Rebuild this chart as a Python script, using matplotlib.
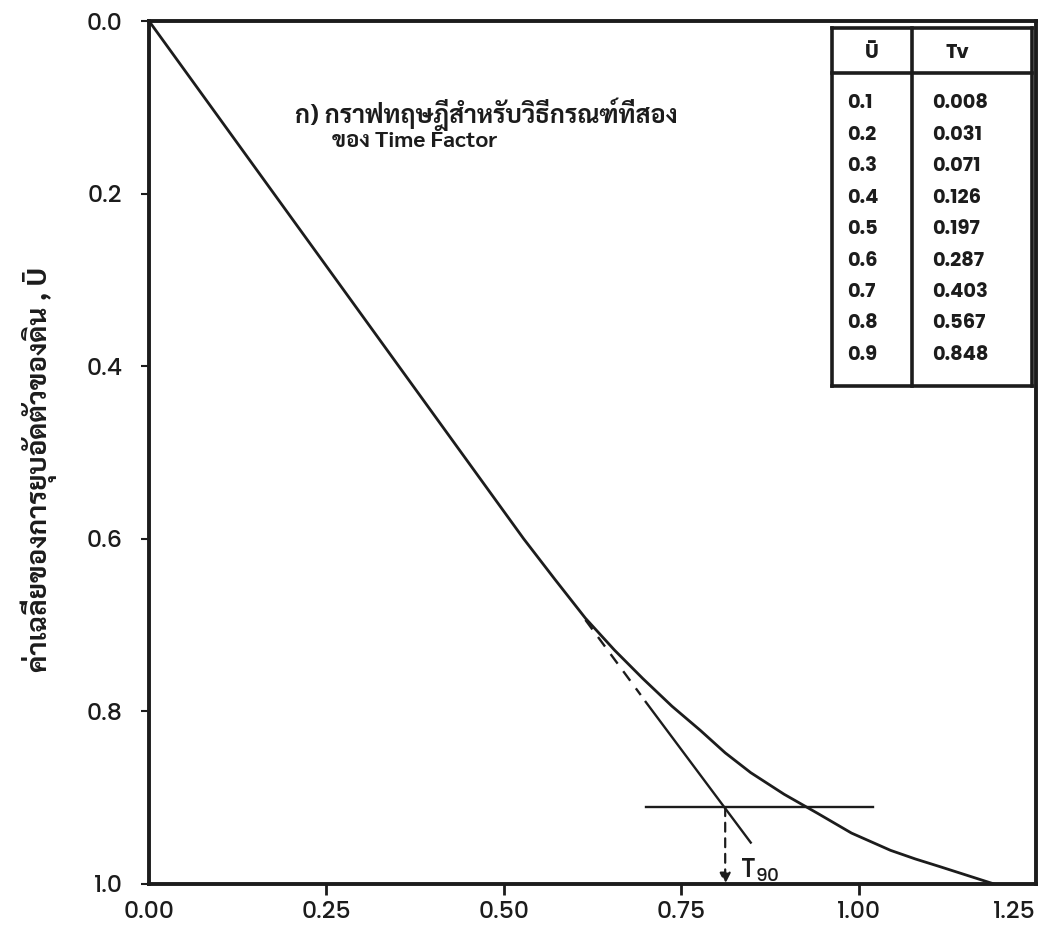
import matplotlib
matplotlib.use('Agg')
import matplotlib.pyplot as plt
from matplotlib import font_manager as fm

# ---------------- data ----------------
x_ticks = [0.0, 0.25, 0.50, 0.75, 1.00, 1.25]
x_tick_labels = ["0.00", "0.25", "0.50", "0.75", "1.00", "1.25"]
y_ticks = [0.0, 0.2, 0.4, 0.6, 0.8, 1.0]
y_tick_labels = ["0.0", "0.2", "0.4", "0.6", "0.8", "1.0"]

# theoretical curve: sqrt(Tv) (x) vs average degree of consolidation U (y)
curve_x = [0.0, 0.088, 0.176, 0.264, 0.352, 0.440, 0.528, 0.572, 0.615, 0.656,
           0.696, 0.737, 0.777, 0.812, 0.848, 0.895, 0.942, 0.990, 1.045,
           1.080, 1.115, 1.153, 1.191]
curve_u = [0.0, 0.1, 0.2, 0.3, 0.4, 0.5, 0.6, 0.647, 0.692, 0.729,
           0.762, 0.794, 0.822, 0.848, 0.871, 0.896, 0.918, 0.941, 0.961,
           0.971, 0.980, 0.990, 1.0]

# extension of the initial straight part (dashed then solid)
ext_dash_x = [0.615, 0.693]
ext_dash_u = [0.694, 0.781]
ext_solid_x = [0.700, 0.848]
ext_solid_u = [0.789, 0.952]

# horizontal line at U90 and the T90 arrow
h_line_x = [0.70, 1.02]
h_line_u = [0.911, 0.911]
t90_x = 0.812
t90_u_top = 0.911
t90_u_bottom = 1.0

# table
table_u = ["0.1", "0.2", "0.3", "0.4", "0.5", "0.6", "0.7", "0.8", "0.9"]
table_tv = ["0.008", "0.031", "0.071", "0.126", "0.197", "0.287", "0.403", "0.567", "0.848"]
table_head = ["\u016a", "Tv"]

title_line1 = "ก) กราฟทฤษฎีสำหรับวิธีกรณฑ์ที่สอง"
title_line2 = "ของ Time Factor"
y_label = "ค่าเฉลี่ยของการยุบอัดตัวของดิน , \u016a"

# ---------------- fonts ----------------
names = {f.name for f in fm.fontManager.ttflist}
def pick(cands, default='DejaVu Sans'):
    for c in cands:
        if c in names:
            return c
    return default

thai_font = pick(['Sarabun', 'Noto Sans Thai Looped', 'Bai Jamjuree', 'Noto Sans Thai', 'Prompt', 'Kanit'])
num_font = pick(['Poppins', 'Questrial', 'Prompt', 'Kanit', 'Lato'])
thai_fam = [thai_font, 'DejaVu Sans']
num_fam = [num_font, 'DejaVu Sans']

INK = '#1c1c1c'

W, H = 1038, 931
fig = plt.figure(figsize=(W / 100, H / 100), dpi=100)
fig.patch.set_facecolor('white')

def px(x, y):
    return x / W, 1 - y / H

ax_l, ax_r, ax_t, ax_b = 149, 1036, 21, 884
ax = fig.add_axes([ax_l / W, 1 - ax_b / H, (ax_r - ax_l) / W, (ax_b - ax_t) / H])
ax.set_xlim(0, 1.25)
ax.set_ylim(1.0, 0.0)

for s in ax.spines.values():
    s.set_linewidth(2.8)
    s.set_color(INK)

ax.set_xticks(x_ticks)
ax.set_xticklabels(x_tick_labels, family=num_fam, fontsize=17, color=INK, fontweight='medium')
ax.set_yticks(y_ticks)
ax.set_yticklabels(y_tick_labels, family=num_fam, fontsize=17, color=INK, fontweight='medium')
ax.tick_params(axis='x', direction='out', length=8, width=2, pad=4, colors=INK)
ax.tick_params(axis='y', direction='out', length=6, width=1.5, pad=13, colors=INK)
xt = ax.xaxis.get_major_ticks()
xt[0].tick1line.set_visible(False)
xt[-1].tick1line.set_visible(False)
xt[-1].label1.set_horizontalalignment('right')

ax.set_ylabel(y_label, family=thai_fam, fontsize=20, fontweight='bold', color=INK)
ax.yaxis.set_label_coords(-0.104, 0.48)

# curve
ax.plot(curve_x, curve_u, color=INK, lw=2.0, solid_capstyle='round', solid_joinstyle='round')
# extension line
ax.plot(ext_dash_x, ext_dash_u, color=INK, lw=1.7, ls=(0, (5, 4)))
ax.plot(ext_solid_x, ext_solid_u, color=INK, lw=1.7)
# horizontal line
ax.plot(h_line_x, h_line_u, color=INK, lw=1.7)
# T90 arrow
ax.annotate('', xy=(t90_x, t90_u_bottom), xytext=(t90_x, t90_u_top),
            arrowprops=dict(arrowstyle='-|>', ls=(0, (4, 3)), lw=1.6, color=INK,
                            mutation_scale=16, shrinkA=0, shrinkB=0))
ax.text(t90_x + 0.021, 0.992, r'T$_{\mathregular{90}}$', family=num_fam, fontsize=19,
        color=INK, ha='left', va='baseline', fontweight='medium')

# title text
fig.text(*px(295, 123), title_line1, family=thai_fam, fontsize=18, fontweight='bold',
         color=INK, ha='left', va='baseline')
fig.text(*px(332, 147), title_line2, family=thai_fam, fontsize=16, fontweight='bold',
         color=INK, ha='left', va='baseline')

# table
tl, tr, tt, tb = 832, 1032, 28, 386
tcol, thead = 912, 73
lw_t = 2.6
for (x0, y0, x1, y1) in [(tl, tt, tr, tt), (tl, tb, tr, tb), (tl, tt, tl, tb),
                         (tr, tt, tr, tb), (tcol, tt, tcol, tb), (tl, thead, tr, thead)]:
    fig.add_artist(plt.Line2D([x0 / W, x1 / W], [1 - y0 / H, 1 - y1 / H],
                              color=INK, lw=lw_t, transform=fig.transFigure,
                              solid_capstyle='projecting'))
fig.text(*px(872, 53), table_head[0], family=num_fam, fontsize=14, fontweight='bold',
         color=INK, ha='center', va='center')
fig.text(*px(957, 53), table_head[1], family=num_fam, fontsize=14, fontweight='bold',
         color=INK, ha='center', va='center')
row0, dy = 104, 31.4
for i, (u, tv) in enumerate(zip(table_u, table_tv)):
    y = row0 + i * dy
    fig.text(*px(847, y), u, family=num_fam, fontsize=14, fontweight='bold',
             color=INK, ha='left', va='center')
    fig.text(*px(932, y), tv, family=num_fam, fontsize=14, fontweight='bold',
             color=INK, ha='left', va='center')

fig.savefig('out.png', dpi=100, facecolor='white')
